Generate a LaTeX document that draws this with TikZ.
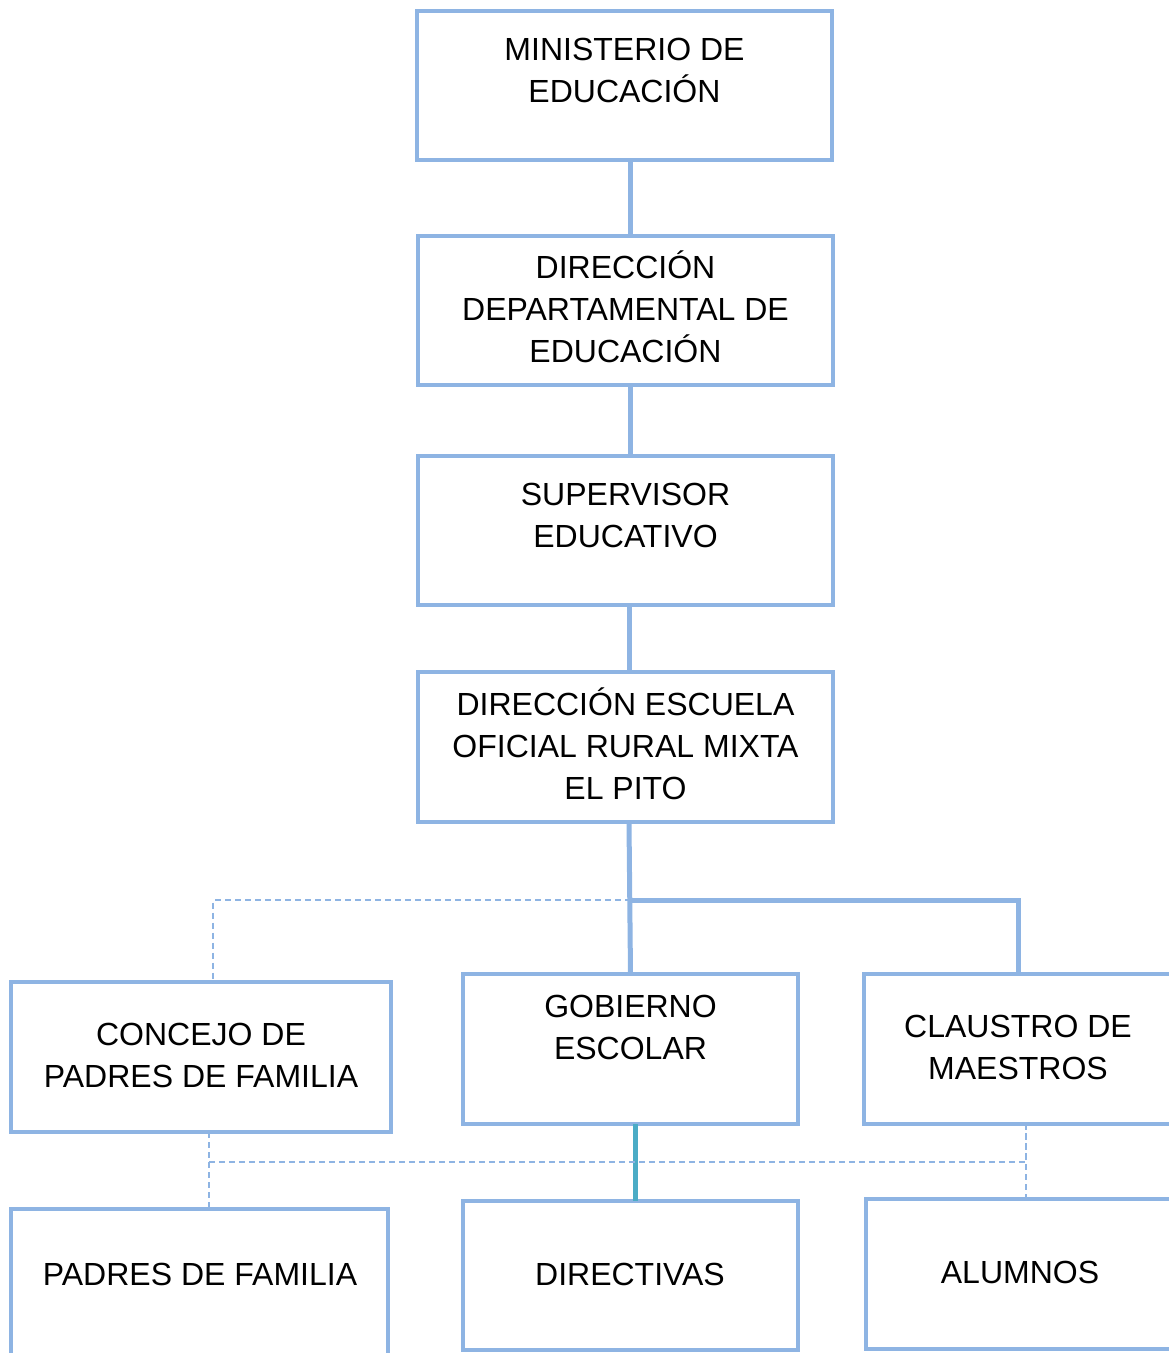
\documentclass[tikz,border=0pt]{standalone}
\usepackage{fontspec}
\setmainfont{Liberation Sans}
\definecolor{boxblue}{HTML}{8EB4E3}
\definecolor{teal2}{HTML}{4BACC6}
\begin{document}
\begin{tikzpicture}[x=1pt,y=-1pt,
  box/.style={draw=boxblue,line width=4pt,rectangle,inner sep=0pt,outer sep=0pt},
  txt/.style={anchor=base,inner sep=0pt,font=\fontsize{32}{42}\selectfont},
  conn/.style={draw=boxblue,line width=5pt},
  dconn/.style={draw=boxblue,line width=1.5pt,dash pattern=on 6pt off 4pt},
  tconn/.style={draw=teal2,line width=5pt}]
\useasboundingbox (0,0) rectangle (1169,1353);
\clip (0,0) rectangle (1169,1353);
% boxes
\node[box,minimum width=415pt,minimum height=149pt] (min) at (624.5,85.5) {};
\node[box,minimum width=415pt,minimum height=149pt] (dd) at (625.5,310.5) {};
\node[box,minimum width=415pt,minimum height=149pt] (sup) at (625.5,530.5) {};
\node[box,minimum width=415pt,minimum height=150pt] (esc) at (625.5,747) {};
\node[box,minimum width=380pt,minimum height=150pt] (con) at (201,1057) {};
\node[box,minimum width=335pt,minimum height=150pt] (gob) at (630.5,1049) {};
\node[box,minimum width=308pt,minimum height=150pt] (cla) at (1018,1049) {};
\node[box,minimum width=377pt,minimum height=150pt] (pad) at (199.5,1284) {};
\node[box,minimum width=335pt,minimum height=149pt] (dir) at (630.5,1275.5) {};
\node[box,minimum width=308pt,minimum height=150pt] (alu) at (1020,1274) {};
% texts
\node[txt] (tmin) at (624.5,60) {\parbox[t]{400pt}{\centering MINISTERIO DE\\EDUCACIÓN}};
\node[txt] (tdd) at (625.5,278) {\parbox[t]{400pt}{\centering DIRECCIÓN\\DEPARTAMENTAL DE\\EDUCACIÓN}};
\node[txt] (tsup) at (625.5,505) {\parbox[t]{400pt}{\centering SUPERVISOR\\EDUCATIVO}};
\node[txt] (tesc) at (625.5,715) {\parbox[t]{400pt}{\centering DIRECCIÓN ESCUELA\\OFICIAL RURAL MIXTA\\EL PITO}};
\node[txt] (tcon) at (201,1045) {\parbox[t]{370pt}{\centering CONCEJO DE\\PADRES DE FAMILIA}};
\node[txt] (tgob) at (630.5,1017) {\parbox[t]{320pt}{\centering GOBIERNO\\ESCOLAR}};
\node[txt] (tcla) at (1018,1037) {\parbox[t]{300pt}{\centering CLAUSTRO DE\\MAESTROS}};
\node[txt] (tpad) at (200,1285) {PADRES DE FAMILIA};
\node[txt] (tdir) at (630,1285) {DIRECTIVAS};
\node[txt] (talu) at (1020,1283) {ALUMNOS};
% connectors
\draw[conn] ([xshift=5.5pt]min.south) -- ([xshift=4.5pt]dd.north);
\draw[conn] ([xshift=4.5pt]dd.south) -- ([xshift=4.5pt]sup.north);
\draw[conn] ([xshift=3.5pt]sup.south) -- ([xshift=3.5pt]esc.north);
\coordinate (j) at (630.5,900);
\draw[dconn] (j) -| ([xshift=12pt]con.north);
\draw[conn] ([xshift=3.5pt]esc.south) -- (gob.north);
\draw[conn] (j) -| (cla.north);
\draw[tconn] ([xshift=4.5pt]gob.south) -- ([xshift=4.5pt]dir.north);
\coordinate (k) at (209,1162);
\draw[dconn] ([xshift=8pt]con.south) -- ([xshift=9.5pt]pad.north);
\draw[dconn] (k) -| ([xshift=8pt]cla.south);
\draw[dconn] ([xshift=8pt]cla.south) -- ([xshift=6pt]alu.north);
\end{tikzpicture}
\end{document}
